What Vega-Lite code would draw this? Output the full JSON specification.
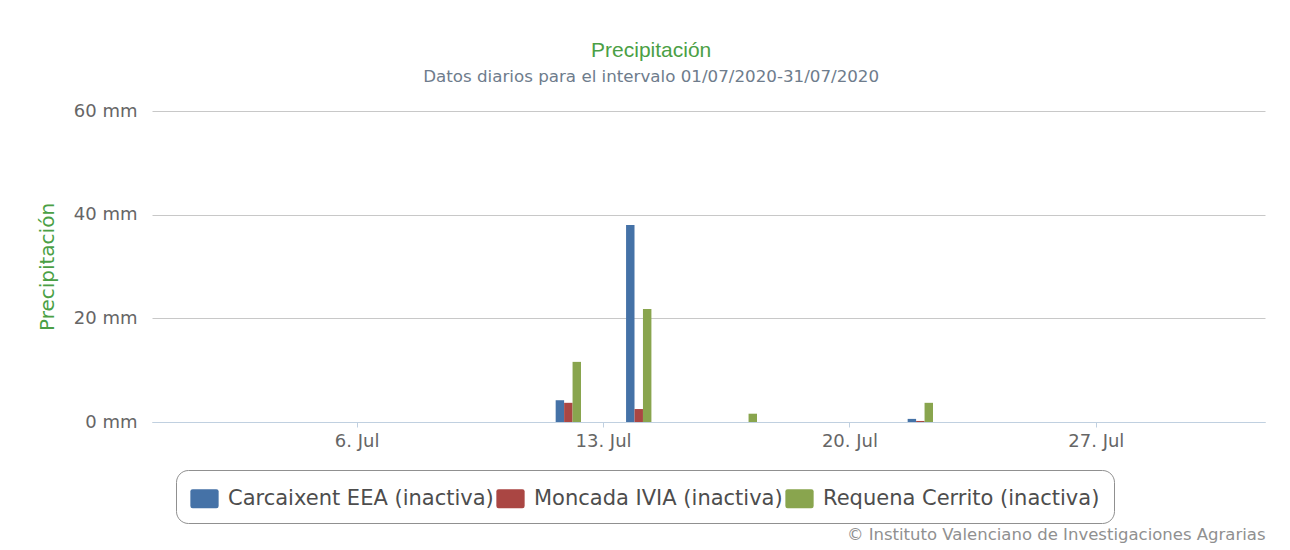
{
  "$schema": "https://vega.github.io/schema/vega-lite/v6.json",
  "autosize": {"type": "none"},
  "width": 1113,
  "height": 311,
  "padding": {"left": 152, "top": 111, "right": 25, "bottom": 128},
  "background": "#ffffff",
  "title": {
    "text": "Precipitación",
    "subtitle": "Datos diarios para el intervalo 01/07/2020-31/07/2020",
    "anchor": "middle",
    "frame": "bounds",
    "font": "Liberation Sans",
    "fontSize": 21,
    "fontWeight": "normal",
    "color": "#4b9f45",
    "subtitleFont": "DejaVu Sans",
    "subtitleFontSize": 16.7,
    "subtitleColor": "#6e7c8c",
    "subtitlePadding": 8,
    "offset": 16
  },
  "data": {
    "values": [
      {"day": 12, "station": "Carcaixent EEA (inactiva)", "value": 4.2},
      {"day": 12, "station": "Moncada IVIA (inactiva)", "value": 3.7},
      {"day": 12, "station": "Requena Cerrito (inactiva)", "value": 11.6},
      {"day": 14, "station": "Carcaixent EEA (inactiva)", "value": 38.0},
      {"day": 14, "station": "Moncada IVIA (inactiva)", "value": 2.5},
      {"day": 14, "station": "Requena Cerrito (inactiva)", "value": 21.8},
      {"day": 17, "station": "Requena Cerrito (inactiva)", "value": 1.6},
      {"day": 22, "station": "Carcaixent EEA (inactiva)", "value": 0.6},
      {"day": 22, "station": "Moncada IVIA (inactiva)", "value": 0.2},
      {"day": 22, "station": "Requena Cerrito (inactiva)", "value": 3.7}
    ]
  },
  "mark": {"type": "bar"},
  "encoding": {
    "x": {
      "field": "day",
      "type": "ordinal",
      "scale": {
        "domain": [1,2,3,4,5,6,7,8,9,10,11,12,13,14,15,16,17,18,19,20,21,22,23,24,25,26,27,28,29,30,31],
        "paddingInner": 0.28,
        "paddingOuter": 0.45,
        "align": 0.52
      },
      "axis": {
        "values": [6, 13, 20, 27],
        "labelExpr": "datum.value + '. Jul'",
        "labelAngle": 0,
        "labelFont": "DejaVu Sans",
        "labelFontSize": 18,
        "labelColor": "#666666",
        "labelPadding": 5,
        "domainColor": "#C0D0E0",
        "domainWidth": 1,
        "tickColor": "#C0D0E0",
        "tickSize": 5,
        "grid": false,
        "title": "© Instituto Valenciano de Investigaciones Agrarias",
        "titleAnchor": "end",
        "titleFont": "DejaVu Sans",
        "titleFontSize": 16.5,
        "titleFontWeight": "normal",
        "titleColor": "#909090",
        "titlePadding": 76
      }
    },
    "xOffset": {"field": "station", "type": "nominal"},
    "y": {
      "field": "value",
      "type": "quantitative",
      "scale": {"domain": [0, 60]},
      "axis": {
        "values": [0, 20, 40, 60],
        "labelExpr": "datum.value + ' mm'",
        "labelFont": "DejaVu Sans",
        "labelFontSize": 18,
        "labelColor": "#666666",
        "labelPadding": 15,
        "ticks": false,
        "domain": false,
        "gridColor": "#C8C8C8",
        "gridWidth": 1,
        "title": "Precipitación",
        "titleFont": "DejaVu Sans",
        "titleFontSize": 20,
        "titleFontWeight": "normal",
        "titleColor": "#4b9f45",
        "titlePadding": 16
      }
    },
    "color": {
      "field": "station",
      "type": "nominal",
      "scale": {
        "domain": ["Carcaixent EEA (inactiva)", "Moncada IVIA (inactiva)", "Requena Cerrito (inactiva)"],
        "range": ["#4572A7", "#AA4643", "#89A54E"]
      },
      "legend": {
        "title": null,
        "orient": "none",
        "direction": "horizontal",
        "legendX": 24,
        "legendY": 359,
        "strokeColor": "#909090",
        "cornerRadius": 12,
        "padding": 14,
        "fillColor": "#ffffff",
        "symbolType": "M-0.84,-0.68H0.84Q1,-0.68 1,-0.52V0.52Q1,0.68 0.84,0.68H-0.84Q-1,0.68 -1,0.52V-0.52Q-1,-0.68 -0.84,-0.68Z",
        "symbolSize": 800,
        "symbolStrokeWidth": 0,
        "labelFont": "DejaVu Sans",
        "labelFontSize": 21,
        "labelColor": "#4d4d4d",
        "labelOffset": 9,
        "labelLimit": 400,
        "columnPadding": 2
      }
    }
  },
  "config": {
    "view": {"stroke": null}
  }
}
